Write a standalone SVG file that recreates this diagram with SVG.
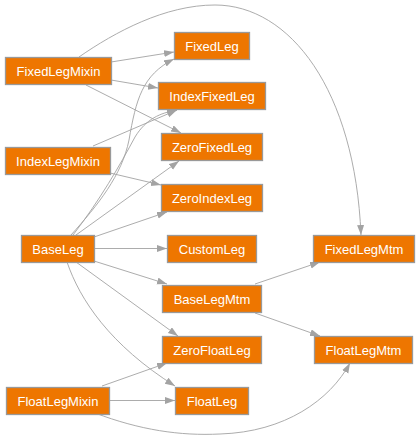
<svg xmlns="http://www.w3.org/2000/svg" width="419" height="440" viewBox="0 0 419 440">
<defs>
<style>
.node rect{fill:#ee7600;stroke:#999999;stroke-width:1.3}
.node text{fill:#ffffff;font-family:"Liberation Sans",Arial,sans-serif;font-size:13px;text-anchor:middle}
.edges path{fill:none;stroke:#a3a3a3;stroke-width:0.9;marker-end:url(#arr)}
</style>
<marker id="arr" markerUnits="userSpaceOnUse" markerWidth="11" markerHeight="8" refX="10" refY="3.5" orient="auto">
<path d="M0,0 L10,3.5 L0,7 z" fill="#a3a3a3"/>
</marker>
</defs>
<rect width="419" height="440" fill="#ffffff"/>
<g class="edges">
<path d="M111,62 L174,52"/>
<path d="M111,80 L158,88"/>
<path d="M86,85 L181,133"/>
<path d="M79,57 C115,32 165,5 215,5 C290,5 355,90 361,235"/>
<path d="M93,146 L177,110"/>
<path d="M110,173 L161,185"/>
<path d="M71,235 C98,205 122,175 129,140 C136,100 142,75 174,59"/>
<path d="M73,235 C100,200 120,165 135,137 C146,119 160,113 177,110"/>
<path d="M76,235 L179,161"/>
<path d="M94,237 L167,212"/>
<path d="M94,248.5 L167,248.5"/>
<path d="M94,261 L167,284"/>
<path d="M76,262 L178,336"/>
<path d="M67,262 C80,300 110,345 175,386"/>
<path d="M102,386 L167,363"/>
<path d="M109,400.5 L175,400.5"/>
<path d="M95,413 C140,430 180,436 220,434 C285,432 330,400 350,363"/>
<path d="M255,284 L320,262"/>
<path d="M255,313 L320,336"/>
</g>
<g id="FixedLegMixin" class="node"><rect x="5.5" y="57.5" width="106" height="27"/><text x="58.5" y="75.5">FixedLegMixin</text></g>
<g id="FixedLeg" class="node"><rect x="174.5" y="32.5" width="75" height="27"/><text x="212" y="50.5">FixedLeg</text></g>
<g id="IndexFixedLeg" class="node"><rect x="158.5" y="82.5" width="107" height="27"/><text x="212" y="100.5">IndexFixedLeg</text></g>
<g id="ZeroFixedLeg" class="node"><rect x="161.5" y="133.5" width="101" height="27"/><text x="212" y="151.5">ZeroFixedLeg</text></g>
<g id="IndexLegMixin" class="node"><rect x="5.5" y="147.5" width="105" height="27"/><text x="58" y="165.5">IndexLegMixin</text></g>
<g id="ZeroIndexLeg" class="node"><rect x="161.5" y="184.5" width="101" height="27"/><text x="212" y="202.5">ZeroIndexLeg</text></g>
<g id="BaseLeg" class="node"><rect x="21.5" y="235.5" width="73" height="27"/><text x="58" y="253.5">BaseLeg</text></g>
<g id="CustomLeg" class="node"><rect x="167.5" y="235.5" width="89" height="27"/><text x="212" y="253.5">CustomLeg</text></g>
<g id="BaseLegMtm" class="node"><rect x="162.5" y="285.5" width="99" height="27"/><text x="212" y="303.5">BaseLegMtm</text></g>
<g id="ZeroFloatLeg" class="node"><rect x="162.5" y="336.5" width="99" height="27"/><text x="212" y="354.5">ZeroFloatLeg</text></g>
<g id="FloatLegMixin" class="node"><rect x="6.5" y="387.5" width="103" height="27"/><text x="58" y="405.5">FloatLegMixin</text></g>
<g id="FloatLeg" class="node"><rect x="175.5" y="387.5" width="73" height="27"/><text x="212" y="405.5">FloatLeg</text></g>
<g id="FixedLegMtm" class="node"><rect x="313.5" y="235.5" width="101" height="27"/><text x="364" y="253.5">FixedLegMtm</text></g>
<g id="FloatLegMtm" class="node"><rect x="314.5" y="336.5" width="98" height="27"/><text x="363.5" y="354.5">FloatLegMtm</text></g>
</svg>
